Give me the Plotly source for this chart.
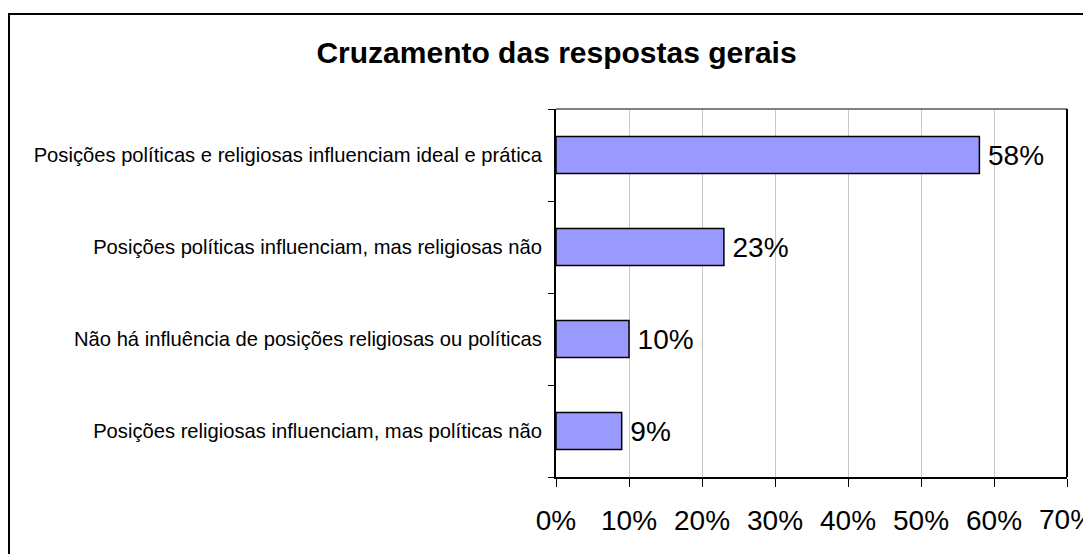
import plotly.graph_objects as go

# Dados
categorias = [
    "Posições políticas e religiosas influenciam ideal e prática",
    "Posições políticas influenciam, mas religiosas não",
    "Não há influência de posições religiosas ou políticas",
    "Posições religiosas influenciam, mas políticas não",
]
percentuais = [58, 23, 10, 9]
x_ticks = [0, 10, 20, 30, 40, 50, 60, 70]
x_tick_labels = ["0%", "10%", "20%", "30%", "40%", "50%", "60%", "70%"]

font_family = "Liberation Sans, Arial, sans-serif"

fig = go.Figure(go.Bar(
    x=percentuais,
    y=categorias,
    orientation="h",
    marker=dict(color="#9999FF", line=dict(color="black", width=1.5)),
    text=["\u2009" + f"{v}%" for v in percentuais],
    textposition="outside",
    textfont=dict(size=28, color="black", family=font_family),
    cliponaxis=False,
    width=0.4,
))

# o último rótulo (70%) sai da figura e o plotly o esconde; vai como anotação
fig.add_annotation(
    x=x_ticks[-1], xref="x", y=-0.1168, yref="paper",
    text=x_tick_labels[-1], showarrow=False,
    xanchor="center", yanchor="middle",
    font=dict(size=28, color="black", family=font_family),
)

# a página tem margem de 8px no body, por isso a figura é 8px menor
fig.update_layout(
    width=1083,
    height=546,
    margin=dict(l=548, r=24, t=101, b=77),
    paper_bgcolor="white",
    plot_bgcolor="white",
    showlegend=False,
    font=dict(family=font_family, color="black"),
    title=dict(
        text="<b>Cruzamento das respostas gerais</b>",
        x=0.5065, xanchor="center",
        y=0.9176, yanchor="middle",
        font=dict(size=30, family=font_family, color="black"),
    ),
    xaxis=dict(
        range=[0, 70],
        tickvals=x_ticks,
        ticktext=x_tick_labels[:-1] + [""],
        automargin=False,
        showgrid=True,
        gridcolor="#C8C8C8",
        gridwidth=1,
        showline=True,
        linecolor="black",
        linewidth=2,
        ticks="outside",
        ticklen=8,
        tickcolor="black",
        tickfont=dict(size=28),
        ticklabelstandoff=9,
        zeroline=False,
    ),
    yaxis=dict(
        categoryorder="array",
        categoryarray=categorias[::-1],
        automargin=False,
        showline=True,
        linecolor="black",
        linewidth=2,
        ticks="outside",
        tickson="boundaries",
        ticklen=6,
        tickcolor="black",
        tickfont=dict(size=20.2),
        ticklabelstandoff=8,
        showgrid=False,
    ),
    shapes=[
        # linha superior cinza e lateral direita da área do gráfico
        dict(type="line", xref="paper", yref="paper", x0=0, x1=1, y0=1, y1=1,
             line=dict(color="#808080", width=2)),
        dict(type="line", xref="paper", yref="paper", x0=1, x1=1, y0=0, y1=1,
             line=dict(color="black", width=2)),
        # moldura externa
        dict(type="rect", xref="paper", yref="paper",
             x0=-1.0705, x1=1.06, y0=-0.23, y1=1.258,
             line=dict(color="black", width=2)),
    ],
)

fig.write_html("out.html")
